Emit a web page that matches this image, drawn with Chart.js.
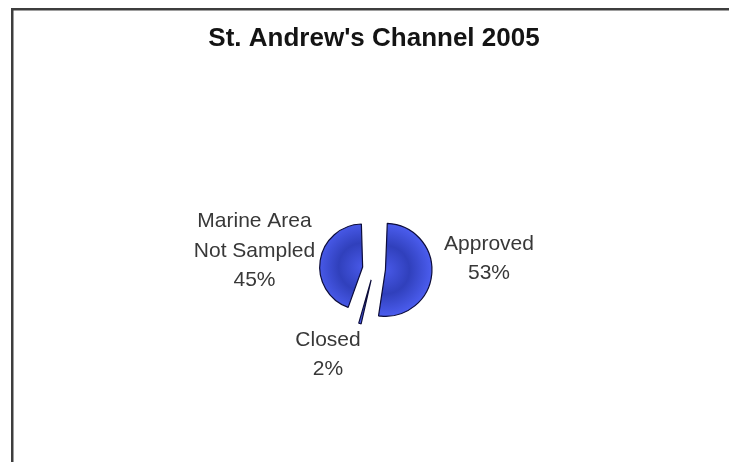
<!DOCTYPE html>
<html>
<head>
<meta charset="utf-8">
<title>St. Andrew's Channel 2005</title>
<script src="https://cdn.jsdelivr.net/npm/chart.js@4/dist/chart.umd.min.js"></script>
<style>
  html, body { margin: 0; padding: 0; background: #ffffff; }
  #wrap { width: 729px; height: 462px; position: relative; }
  canvas { display: block; }
</style>
</head>
<body>
<div id="wrap"><canvas id="pie" width="729" height="462"></canvas></div>
<script>
// Shellfish area classification, St. Andrew's Channel, 2005 (percent of area)
const chartTitle = "St. Andrew's Channel 2005";
const categories = [['Approved'], ['Closed'], ['Marine Area', 'Not Sampled']];
const shares = [53, 2, 45];

// Where each slice's label block sits, relative to the pie centre
const labelOffsets = [
  { dx: 115, dy: -10 },
  { dx: -46, dy: 86 },
  { dx: -119.5, dy: -18 }
];

const FONT = "'Liberation Sans', Arial, Helvetica, sans-serif";

// Frame lines along the top and left edges
const framePlugin = {
  id: 'frame',
  beforeDraw(chart) {
    const ctx = chart.ctx;
    ctx.save();
    ctx.fillStyle = '#ffffff';
    ctx.fillRect(0, 0, chart.width, chart.height);
    ctx.fillStyle = '#3e3e3e';
    ctx.fillRect(11, 8, chart.width - 11, 2.5);
    ctx.fillRect(11, 8, 2.5, chart.height - 8);
    ctx.restore();
  }
};

// Category name and percentage next to each slice
const sliceLabelPlugin = {
  id: 'sliceLabels',
  afterDatasetsDraw(chart) {
    const ctx = chart.ctx;
    const meta = chart.getDatasetMeta(0);
    const values = chart.data.datasets[0].data;
    const total = values.reduce((a, b) => a + b, 0);
    ctx.save();
    ctx.font = '21px ' + FONT;
    ctx.fillStyle = '#383838';
    ctx.textAlign = 'center';
    ctx.textBaseline = 'middle';
    const lineGap = 29.5;
    meta.data.forEach((arc, i) => {
      const pct = Math.round(values[i] / total * 100) + '%';
      const lines = [...chart.data.labels[i], pct];
      const off = labelOffsets[i];
      const cx = arc.x + off.dx;
      const cy = arc.y + off.dy;
      const top = cy - (lines.length - 1) * lineGap / 2;
      lines.forEach((t, k) => ctx.fillText(t, cx, top + k * lineGap));
    });
    ctx.restore();
  }
};

function sliceFill(context) {
  const chart = context.chart;
  const area = chart.chartArea;
  if (!area) return '#3545c8';
  const cx = (area.left + area.right) / 2;
  const cy = (area.top + area.bottom) / 2;
  const g = chart.ctx.createRadialGradient(cx, cy, 0, cx, cy, 48);
  g.addColorStop(0, '#4859e8');
  g.addColorStop(0.5, '#3040bc');
  g.addColorStop(1, '#4d5ff2');
  return g;
}

new Chart(document.getElementById('pie'), {
  type: 'pie',
  data: {
    labels: categories,
    datasets: [{
      data: shares,
      backgroundColor: sliceFill,
      borderColor: '#0c0c3a',
      borderWidth: 1.2,
      offset: 46
    }]
  },
  options: {
    responsive: false,
    animation: false,
    devicePixelRatio: 1,
    radius: 35,
    layout: { padding: { top: 10, left: 100, right: 81, bottom: 85 } },
    plugins: {
      legend: { display: false },
      tooltip: { enabled: false },
      title: {
        display: true,
        text: chartTitle,
        color: '#141414',
        font: { family: FONT, size: 26, weight: 'bold', lineHeight: 1.2 },
        padding: { top: 13.5, bottom: 105.8 }
      }
    }
  },
  plugins: [framePlugin, sliceLabelPlugin]
});
</script>
</body>
</html>
